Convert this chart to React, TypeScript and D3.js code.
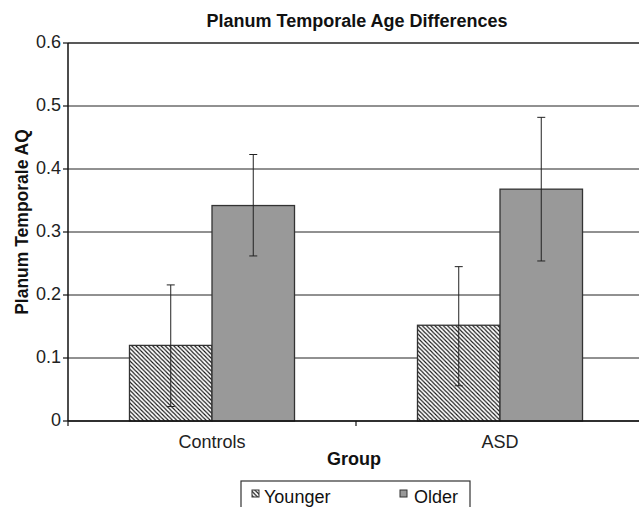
import * as d3 from 'd3';

const groups = ['Controls', 'ASD'];
const seriesNames = ['Younger', 'Older'];
const means = [
  [0.12, 0.342],
  [0.152, 0.368],
];
const errLow = [
  [0.023, 0.262],
  [0.056, 0.254],
];
const errHigh = [
  [0.216, 0.423],
  [0.245, 0.482],
];
const yTicks = [0, 0.1, 0.2, 0.3, 0.4, 0.5, 0.6];
const yTickLabels = ['0', '0.1', '0.2', '0.3', '0.4', '0.5', '0.6'];

const W = 639;
const H = 507;
const left = 68;
const right = 644;
const top = 43;
const bottom = 421;
const font = 'Liberation Sans, Arial, sans-serif';

const App = () => {
  const y = d3.scaleLinear().domain([0, 0.6]).range([bottom, top]);
  const x = d3
    .scaleBand<string>()
    .domain(groups)
    .range([left, right])
    .paddingInner(0.427)
    .paddingOuter(0.2135);
  const xs = d3
    .scaleBand<string>()
    .domain(seriesNames)
    .range([0, x.bandwidth()]);

  const fills = ['url(#hatch)', '#999999'];
  const step = x.step();

  return (
    <svg
      width={W}
      height={H}
      style={{ position: 'absolute', left: 0, top: 0, background: '#fff' }}
      fontFamily={font}
    >
      <defs>
        <pattern id='hatch' patternUnits='userSpaceOnUse' width={4.2} height={4.2}>
          <rect width={4.2} height={4.2} fill='#fff' />
          <path
            d='M0,0 L4.2,4.2 M-1,3.2 L1,5.2 M3.2,-1 L5.2,1'
            stroke='#111'
            strokeWidth={1.1}
          />
        </pattern>
      </defs>

      {/* title */}
      <text x={357} y={27} textAnchor='middle' fontSize={18} fontWeight='bold' fill='#111'>
        Planum Temporale Age Differences
      </text>

      {/* gridlines */}
      {yTicks.map((t, i) => (
        <line
          key={i}
          x1={left}
          x2={right}
          y1={y(t)}
          y2={y(t)}
          stroke='#222'
          strokeWidth={i === yTicks.length - 1 ? 1.5 : 1}
        />
      ))}

      {/* bars */}
      {groups.map((g, gi) =>
        seriesNames.map((s, si) => {
          const bx = (x(g) || 0) + (xs(s) || 0);
          return (
            <rect
              key={g + s}
              x={bx}
              y={y(means[gi][si])}
              width={xs.bandwidth()}
              height={bottom - y(means[gi][si])}
              fill={fills[si]}
              stroke='#333'
              strokeWidth={1.3}
            />
          );
        })
      )}

      {/* error bars */}
      {groups.map((g, gi) =>
        seriesNames.map((s, si) => {
          const cx = (x(g) || 0) + (xs(s) || 0) + xs.bandwidth() / 2;
          return (
            <g key={'e' + g + s} stroke='#222' strokeWidth={1}>
              <line x1={cx} x2={cx} y1={y(errHigh[gi][si])} y2={y(errLow[gi][si])} />
              <line x1={cx - 4} x2={cx + 4} y1={y(errHigh[gi][si])} y2={y(errHigh[gi][si])} />
              <line x1={cx - 4} x2={cx + 4} y1={y(errLow[gi][si])} y2={y(errLow[gi][si])} />
            </g>
          );
        })
      )}

      {/* axes */}
      <line x1={left} x2={left} y1={top} y2={bottom} stroke='#111' strokeWidth={1.5} />
      <line x1={left} x2={right} y1={bottom} y2={bottom} stroke='#111' strokeWidth={1.5} />
      {yTicks.map((t, i) => (
        <g key={'yt' + i}>
          <line x1={left - 5} x2={left} y1={y(t)} y2={y(t)} stroke='#111' strokeWidth={1.2} />
          <text x={left - 7} y={y(t) + 4.5} textAnchor='end' fontSize={18} fill='#222'>
            {yTickLabels[i]}
          </text>
        </g>
      ))}
      {groups.map((g, gi) => (
        <g key={'xt' + g}>
          <line
            x1={left + step * gi}
            x2={left + step * gi}
            y1={bottom}
            y2={bottom + 5}
            stroke='#111'
            strokeWidth={1.2}
          />
          <text
            x={(x(g) || 0) + x.bandwidth() / 2}
            y={448}
            textAnchor='middle'
            fontSize={18}
            fill='#222'
          >
            {g}
          </text>
        </g>
      ))}
      <line
        x1={left + step * 2}
        x2={left + step * 2}
        y1={bottom}
        y2={bottom + 5}
        stroke='#111'
      />

      <text x={354} y={465} textAnchor='middle' fontSize={18} fontWeight='bold' fill='#111'>
        Group
      </text>
      <text
        transform={`translate(28,222) rotate(-90)`}
        textAnchor='middle'
        fontSize={17.5}
        fontWeight='bold'
        fill='#111'
      >
        Planum Temporale AQ
      </text>

      {/* legend */}
      <rect x={241} y={481} width={229} height={40} fill='#fff' stroke='#333' strokeWidth={1.2} />
      <rect x={252} y={490} width={7} height={7} fill='url(#hatch)' stroke='#333' strokeWidth={1} />
      <text x={264} y={503} fontSize={18} fill='#111'>
        Younger
      </text>
      <rect x={400} y={490} width={7} height={7} fill='#999' stroke='#333' strokeWidth={1} />
      <text x={414} y={503} fontSize={18} fill='#111'>
        Older
      </text>
    </svg>
  );
};

export default App;
